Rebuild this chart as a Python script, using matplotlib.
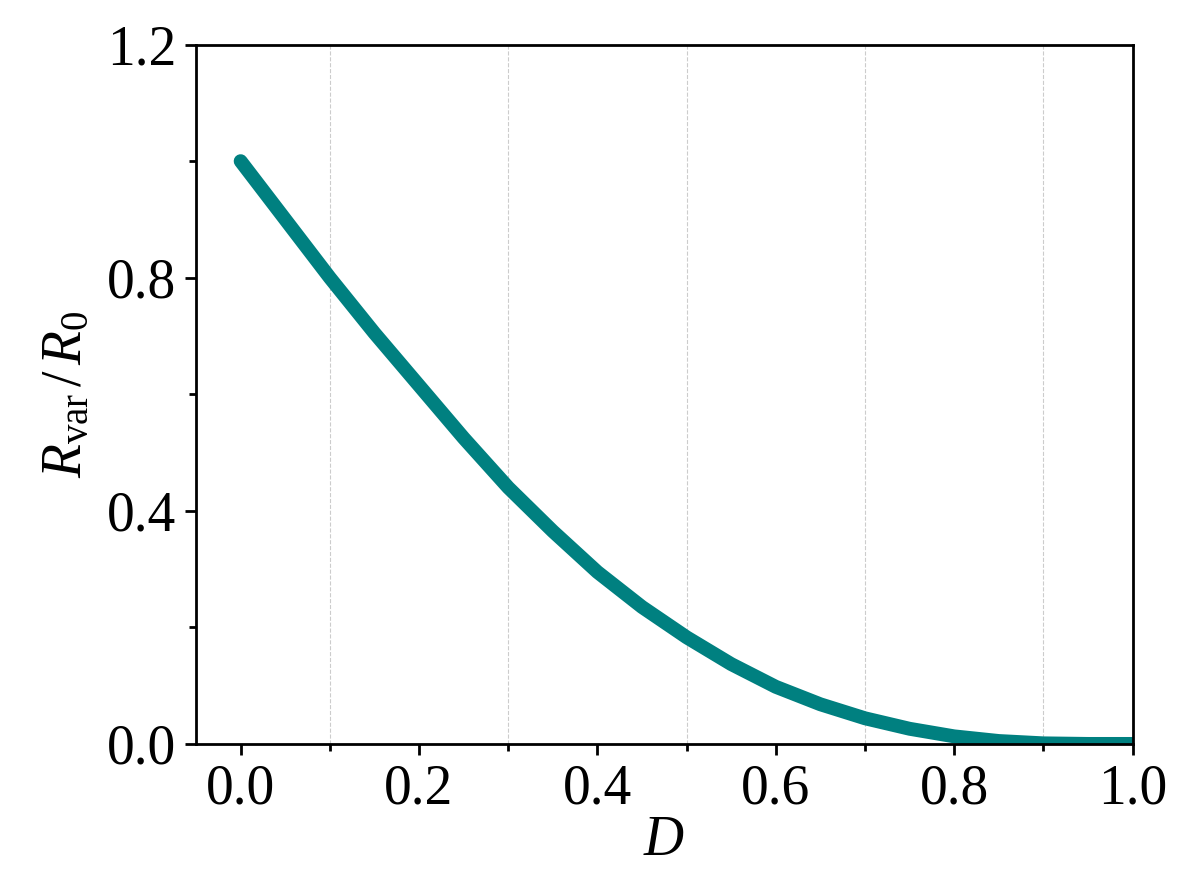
import matplotlib
matplotlib.use("Agg")
import matplotlib.pyplot as plt
from matplotlib.ticker import MultipleLocator, FormatStrFormatter

plt.rcParams["font.family"] = ["Liberation Serif", "DejaVu Serif"]
plt.rcParams["mathtext.fontset"] = "custom"
plt.rcParams["mathtext.rm"] = "Liberation Serif"
plt.rcParams["mathtext.it"] = "Liberation Serif:italic"

# values
D = [0.0, 0.05, 0.1, 0.15, 0.2, 0.25, 0.3, 0.35, 0.4, 0.45, 0.5,
     0.55, 0.6, 0.65, 0.7, 0.75, 0.8, 0.85, 0.9, 0.95, 1.0]
R_ratio = [1.0, 0.90, 0.80, 0.705, 0.615, 0.525, 0.44, 0.365, 0.295, 0.235, 0.183,
           0.137, 0.098, 0.068, 0.044, 0.026, 0.013, 0.005, 0.001, 0.0, 0.0]

fig = plt.figure(figsize=(11.81, 8.92), dpi=100)
ax = fig.add_axes([0.166, 0.166, 0.793, 0.784])

ax.plot(D, R_ratio, color="#008080", lw=10, solid_capstyle="round", solid_joinstyle="round")

ax.set_xlim(-0.05, 1.0)
ax.set_ylim(0, 1.2)
ax.xaxis.set_major_locator(MultipleLocator(0.2))
ax.xaxis.set_minor_locator(MultipleLocator(0.1))
ax.yaxis.set_major_locator(MultipleLocator(0.4))
ax.yaxis.set_minor_locator(MultipleLocator(0.2))
ax.xaxis.set_major_formatter(FormatStrFormatter("%.1f"))
ax.yaxis.set_major_formatter(FormatStrFormatter("%.1f"))
ax.tick_params(which="major", direction="out", length=8, width=2, labelsize=40, pad=6)
ax.tick_params(which="minor", direction="out", length=5, width=2)
ax.grid(axis="x", which="minor", color="#cccccc", ls="--", lw=0.8)
for sp in ax.spines.values():
    sp.set_linewidth(2)

ax.set_xlabel(r"$\mathit{D}$", fontsize=40, labelpad=0)
ax.set_ylabel(r"$\mathit{R}_{\rm var}\,/\,\mathit{R}_{0}$", fontsize=40, labelpad=10)

fig.savefig("out.png", dpi=100)
